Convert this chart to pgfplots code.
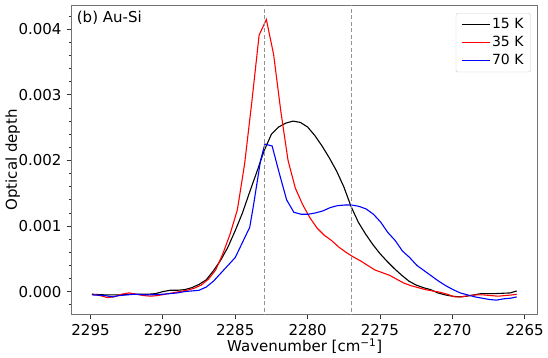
\documentclass[border=0pt]{standalone}
\usepackage{fontspec}
\setmainfont{DejaVu Sans}
\usepackage{pgfplots}
\pgfplotsset{compat=1.18}

\begin{document}
\fontsize{15pt}{18pt}\selectfont
\begin{tikzpicture}
\path[use as bounding box] (-71.7pt,-43.7pt) rectangle (476.3pt,314.3pt);
\begin{axis}[
    at={(0,0)}, anchor=south west,
    scale only axis, width=466pt, height=309pt,
    x dir=reverse,
    xmin=2264.1, xmax=2296.3,
    ymin=-0.000346, ymax=0.004366,
    xtick={2265,2270,2275,2280,2285,2290,2295},
    ytick={0,0.001,0.002,0.003,0.004},
    minor ytick={-0.0002,0.0002,0.0004,0.0006,0.0008,0.0012,0.0014,0.0016,0.0018,0.0022,0.0024,0.0026,0.0028,0.0032,0.0034,0.0036,0.0038,0.0042},
    scaled y ticks=false,
    xticklabel style={/pgf/number format/1000 sep={}},
    yticklabel style={/pgf/number format/.cd, fixed, fixed zerofill, precision=3},
    /pgf/number format/assume math mode=true,
    tick align=outside, tick pos=left,
    major tick length=5pt, minor tick length=3pt,
    tick style={black!80, line width=0.8pt},
    axis line style={black!55, line width=0.9pt},
    xlabel={Wavenumber [cm\textsuperscript{−1}]},
    ylabel={Optical depth},
    xlabel style={at={(axis description cs:0.5,-0.1205)}, anchor=base},
    ylabel style={at={(axis description cs:-0.1174,0.5)}, anchor=base},
    legend style={at={(0.985,0.975)}, anchor=north east, draw=black!20,
        rounded corners=2pt, font=\fontsize{14pt}{16pt}\selectfont,
        inner xsep=5pt, inner ysep=3pt, row sep=1.5pt},
    legend cell align=left,
    legend image code/.code={\draw[#1, line width=1.1pt] (0pt,0pt) -- (28pt,0pt);},
    every axis plot/.append style={line width=1.1pt},
]
% 15 K
\addplot[black] table {
2294.9 -0.00004
2294.0 -0.00005
2293.0 -0.00005
2292.0 -0.00004
2291.0 -0.00004
2290.5 -0.00003
2290.0 0.00000
2289.5 0.00002
2289.0 0.00002
2288.5 0.00003
2288.0 0.00006
2287.5 0.00011
2287.0 0.00018
2286.5 0.00032
2286.0 0.00048
2285.5 0.00068
2285.0 0.00093
2284.5 0.00120
2284.0 0.00152
2283.5 0.00183
2283.0 0.00215
2282.5 0.00240
2282.0 0.00251
2281.5 0.00257
2281.0 0.00260
2280.5 0.00258
2280.0 0.00251
2279.5 0.00238
2279.0 0.00222
2278.5 0.00204
2278.0 0.00184
2277.5 0.00160
2277.0 0.00130
2276.5 0.00106
2276.0 0.00088
2275.5 0.00072
2275.0 0.00058
2274.5 0.00046
2274.0 0.00035
2273.5 0.00025
2273.0 0.00016
2272.5 0.00010
2272.0 0.00006
2271.5 0.00003
2271.0 -0.00002
2270.5 -0.00005
2270.0 -0.00007
2269.5 -0.00008
2269.0 -0.00007
2268.5 -0.00005
2268.0 -0.00003
2267.0 -0.00003
2266.0 -0.00002
2265.55 0.00001
};
\addlegendentry{15 K}
% 35 K
\addplot[red] table {
2294.85 -0.00004
2294.35 -0.00006
2293.85 -0.00009
2293.35 -0.00008
2292.85 -0.00004
2292.35 -0.00002
2291.85 -0.00004
2291.35 -0.00006
2290.85 -0.00007
2290.35 -0.00006
2289.85 -0.00004
2289.35 -0.00002
2288.85 0.00000
2288.35 0.00002
2287.85 0.00005
2287.35 0.00010
2286.85 0.00019
2286.35 0.00033
2285.85 0.00058
2285.35 0.00088
2284.85 0.00125
2284.35 0.00195
2283.85 0.00290
2283.35 0.00391
2282.85 0.00415
2282.35 0.00362
2281.85 0.00275
2281.35 0.00200
2280.85 0.00158
2280.35 0.00133
2279.85 0.00113
2279.35 0.00097
2278.85 0.00086
2278.35 0.00078
2277.85 0.00068
2277.35 0.00060
2276.85 0.00053
2276.35 0.00047
2275.85 0.00040
2275.35 0.00033
2274.85 0.00029
2274.35 0.00025
2273.85 0.00019
2273.35 0.00013
2272.85 0.00009
2272.35 0.00006
2271.85 0.00003
2271.35 0.00001
2270.85 -0.00001
2270.35 -0.00004
2269.85 -0.00008
2269.35 -0.00008
2268.85 -0.00006
2268.35 -0.00005
2267.85 -0.00005
2267.35 -0.00006
2266.85 -0.00007
2266.35 -0.00006
2265.85 -0.00005
2265.55 -0.00004
};
\addlegendentry{35 K}
% 70 K
\addplot[blue] table {
2294.9 -0.00005
2294.0 -0.00006
2293.5 -0.00008
2293.0 -0.00006
2292.0 -0.00004
2291.0 -0.00005
2290.0 -0.00004
2289.5 -0.00003
2289.0 -0.00002
2288.5 0.00000
2288.0 0.00001
2287.5 0.00002
2287.0 0.00007
2286.5 0.00016
2286.0 0.00028
2285.5 0.00040
2285.0 0.00052
2284.5 0.00075
2284.0 0.00098
2283.75 0.00130
2283.5 0.00165
2283.25 0.00200
2282.95 0.00225
2282.45 0.00222
2281.95 0.00180
2281.45 0.00140
2280.95 0.00121
2280.45 0.00118
2279.95 0.00118
2279.45 0.00120
2278.95 0.00123
2278.45 0.00128
2277.95 0.00131
2277.45 0.00132
2276.95 0.00132
2276.45 0.00130
2275.95 0.00126
2275.45 0.00118
2274.95 0.00106
2274.45 0.00090
2273.95 0.00078
2273.45 0.00062
2272.95 0.00052
2272.45 0.00040
2271.95 0.00032
2271.45 0.00024
2270.95 0.00016
2270.45 0.00009
2269.95 0.00003
2269.45 -0.00002
2268.95 -0.00005
2268.45 -0.00008
2267.95 -0.00010
2267.45 -0.00012
2266.95 -0.00013
2266.45 -0.00011
2265.95 -0.00010
2265.55 -0.00008
};
\addlegendentry{70 K}
% marker lines
\addplot[forget plot, gray!85, dash pattern=on 4pt off 2.5pt, line width=1pt] coordinates {(2283,-0.001) (2283,0.005)};
\addplot[forget plot, gray!85, dash pattern=on 4pt off 2.5pt, line width=1pt] coordinates {(2277,-0.001) (2277,0.005)};
\node[anchor=north west, inner sep=0pt] at (rel axis cs:0.0107,0.981) {(b) Au-Si};
\end{axis}
\end{tikzpicture}
\end{document}
